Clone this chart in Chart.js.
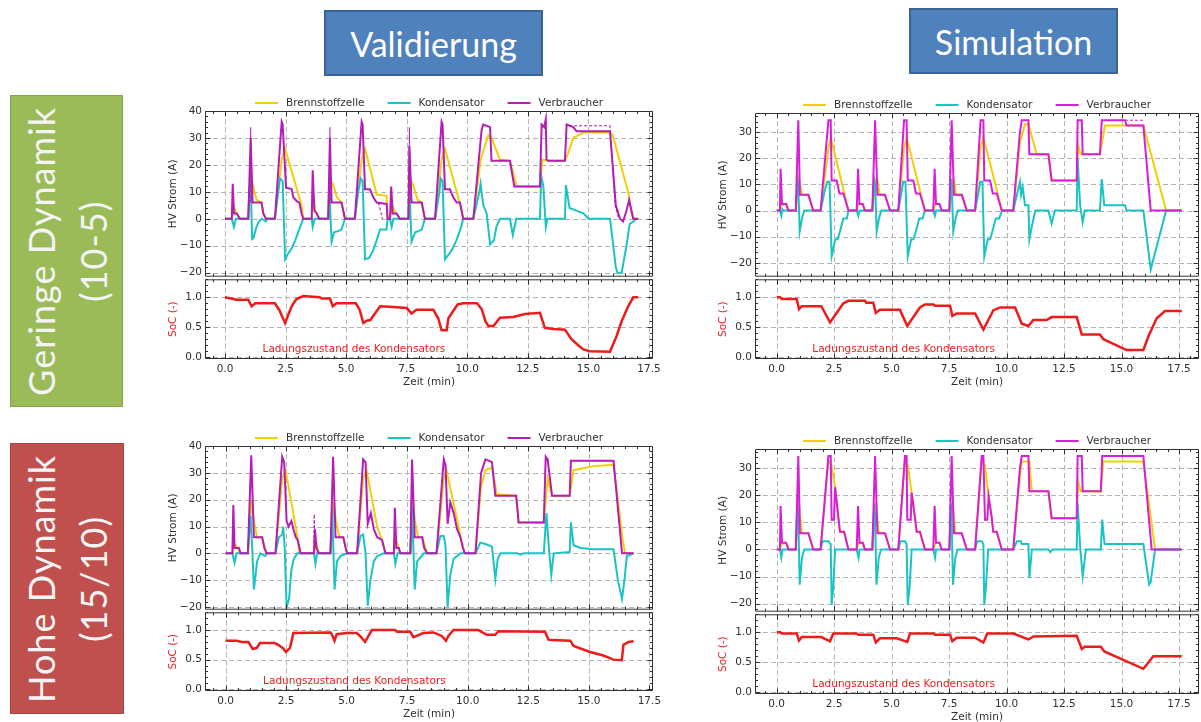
<!DOCTYPE html>
<html>
<head>
<meta charset="utf-8">
<title>HV Strom und SoC – Validierung / Simulation</title>
<script src="https://cdn.jsdelivr.net/npm/chart.js@4.4.1/dist/chart.umd.min.js"></script>
<style>
  html, body { margin: 0; padding: 0; background: #fff; overflow: hidden; }
  #page { position: relative; width: 1201px; height: 722px; background: #fff; }
  canvas { position: absolute; }
  .head {
    position: absolute; box-sizing: border-box;
    background: #4f81bd; border: 2px solid #3b6496;
    color: #fff; font-family: Lato, sans-serif; font-size: 34px;
    display: flex; align-items: center; justify-content: center;
  }
  .side {
    position: absolute; box-sizing: border-box;
    display: flex; align-items: center; justify-content: center;
  }
  .side span {
    writing-mode: vertical-rl; transform: rotate(180deg);
    font-family: Lato, sans-serif; font-size: 36px; line-height: 52px;
    letter-spacing: 1px; color: #f4f4f4; text-align: center; white-space: nowrap;
  }
</style>
</head>
<body>
<div id="page">
  <div class="head" style="left:324px;top:10px;width:219px;height:66px;">Validierung</div>
  <div class="head" style="left:909px;top:8px;width:209px;height:66px;">Simulation</div>
  <div class="side" style="left:10px;top:95px;width:113px;height:312px;background:#9bbb59;border:1px solid #86a44a;">
    <span>Geringe Dynamik<br>(10-5)</span>
  </div>
  <div class="side" style="left:10px;top:443px;width:114px;height:271px;background:#c0504d;border:1px solid #a84542;">
    <span>Hohe Dynamik<br>(15/10)</span>
  </div>
</div>
<script>
// ---------- axis ticks and names ----------
const timeTicks = [0, 2.5, 5, 7.5, 10, 12.5, 15, 17.5];
const currentTicksVal = [-20, -10, 0, 10, 20, 30, 40];
const currentTicksSim = [-20, -10, 0, 10, 20, 30];
const socTicks = [0, 0.5, 1.0];
const seriesNames = ['Brennstoffzelle', 'Kondensator', 'Verbraucher'];
const socNote = 'Ladungszustand des Kondensators';

// ---------- Validierung, geringe Dynamik (10-5) ----------  [t (min), value]
const valGeringeFC = [[0,0],[0.28,0],[0.35,5],[0.48,2],[0.62,0],[0.96,0],[1.06,14],[1.14,13],[1.3,7],[1.51,6],[1.58,2],[1.69,0],[2.06,0],[2.34,22],[2.48,26],[3.16,5],[3.23,0],[3.58,0],[3.65,8],[3.72,3],[3.89,0],[4.26,0],[4.38,14],[4.45,13],[4.62,8],[4.81,6],[4.95,0],[5.36,0],[5.64,22],[5.78,26],[6.26,9],[6.67,8.5],[6.71,0],[6.81,0],[6.9,5],[7.05,2],[7.22,0],[7.57,0],[7.68,14],[7.75,13],[7.95,7],[8.12,6],[8.25,0],[8.67,0],[8.94,22],[9.08,26],[9.77,3],[9.83,0],[10.25,0],[10.55,22],[10.87,31],[11.0,30],[11.35,22],[11.76,21.5],[12.04,12],[13.0,12],[13.1,22],[13.34,21.5],[14.03,21.5],[14.15,24],[14.37,30],[14.79,32],[15.89,32],[16.0,31],[16.64,10],[16.75,3],[16.85,0],[17.06,0]];
const valGeringeCap = [[0,0],[0.28,0],[0.37,-3],[0.45,0],[0.96,0],[1.02,12],[1.06,14],[1.12,-7.5],[1.18,-7],[1.3,-3],[1.4,-1],[1.51,0],[1.69,-1],[1.75,0],[2.06,0],[2.2,10],[2.27,15],[2.38,14],[2.48,-15],[2.6,-13],[2.75,-11],[2.9,-8],[3.1,-3],[3.23,0],[3.58,0],[3.62,-3],[3.7,0],[4.26,0],[4.3,12],[4.4,-8.5],[4.5,-5],[4.7,-4.5],[4.81,-4],[4.95,0],[5.36,0],[5.5,10],[5.6,15],[5.68,14],[5.78,-15],[5.95,-14.5],[6.1,-12],[6.26,-8],[6.4,-4],[6.67,-4],[6.71,0],[6.81,0],[6.88,-3],[6.95,0],[7.57,0],[7.61,12],[7.7,-8.5],[7.85,-5],[8.0,-4.5],[8.12,-4],[8.25,0],[8.67,0],[8.85,10],[8.9,15],[8.98,14],[9.08,-15],[9.25,-13],[9.4,-11],[9.55,-8],[9.75,-3],[9.83,0],[10.25,0],[10.5,10],[10.55,13],[10.66,5],[10.8,2],[10.94,-9.5],[11.1,-8],[11.2,-3],[11.35,0],[11.76,0],[11.88,-6],[12.02,0],[13.0,0],[13.05,16],[13.14,12],[13.24,-3],[13.3,0],[14.03,0],[14.07,12.5],[14.22,4],[14.5,3],[14.79,2],[15.0,0],[15.89,0],[16.0,-8],[16.13,-18],[16.2,-20],[16.37,-20],[16.57,-10],[16.7,-2],[16.85,-1],[17.0,0]];
const valGeringeLoad = [[0,0],[0.28,0],[0.32,13],[0.37,2],[0.48,2],[0.62,0],[0.96,0],[1.06,30],[1.14,6],[1.51,6],[1.58,2],[1.69,0],[2.06,0],[2.34,36],[2.38,35],[2.52,11.5],[2.75,11],[2.82,8],[2.96,6.5],[3.07,6],[3.16,2],[3.23,0],[3.58,0],[3.62,18],[3.69,3],[3.78,2],[3.89,0],[4.26,0],[4.33,30],[4.4,6],[4.81,6],[4.95,0],[5.36,0],[5.64,36],[5.68,35],[5.78,11],[5.98,11],[6.12,8],[6.26,6],[6.67,5.5],[6.71,0],[6.81,0],[6.86,12],[6.92,2],[7.08,2],[7.22,0],[7.57,0],[7.61,27],[7.7,6],[8.12,6],[8.25,0],[8.67,0],[8.94,36],[8.98,35],[9.08,11],[9.28,11],[9.42,8],[9.56,6],[9.7,6],[9.83,0],[10.25,0],[10.59,33],[10.66,35],[10.94,34],[11.0,21.5],[11.76,21.5],[11.94,12],[13.0,12],[13.07,35],[13.17,34],[13.24,37],[13.27,22],[13.34,21.5],[14.03,21.5],[14.1,35],[14.37,34],[14.51,32.5],[15.89,32.5],[16.13,5],[16.3,0],[16.43,-1],[16.57,3],[16.68,7],[16.85,0],[17.06,0]];
const valGeringeRef = [[1.04,6],[1.06,34],[1.09,6],[1.1,null],[4.31,6],[4.33,34],[4.36,6],[4.37,null],[6.33,6],[6.5,0],[6.51,null],[7.59,6],[7.61,34],[7.64,6],[7.65,null],[14.2,34.5],[15.89,34.5],[16.1,5],[16.25,0]];
const valGeringeSoC = [[0,1.0],[0.48,0.96],[0.96,0.96],[1.1,0.85],[1.25,0.9],[2.06,0.9],[2.25,0.78],[2.48,0.57],[2.75,0.85],[2.95,0.97],[3.23,1.02],[3.9,1.0],[4.0,0.98],[4.33,0.98],[4.45,0.85],[4.6,0.9],[5.4,0.9],[5.55,0.8],[5.71,0.57],[5.85,0.61],[6.0,0.62],[6.4,0.85],[6.8,0.84],[7.5,0.82],[7.7,0.73],[7.9,0.79],[8.6,0.79],[8.8,0.65],[8.94,0.45],[9.15,0.45],[9.22,0.65],[9.6,0.88],[9.83,0.9],[10.4,0.9],[10.6,0.8],[10.75,0.6],[10.87,0.52],[11.08,0.52],[11.35,0.66],[11.9,0.67],[12.38,0.72],[13.0,0.74],[13.2,0.49],[13.55,0.47],[14.03,0.46],[14.3,0.3],[14.58,0.2],[14.79,0.13],[15.06,0.1],[15.89,0.09],[16.16,0.35],[16.37,0.6],[16.64,0.85],[16.85,1.0],[17.06,1.0]];

// ---------- Simulation, geringe Dynamik (10-5) ----------
const simGeringeFC = [[0,0],[0.14,0],[0.2,2],[0.41,2.5],[0.51,0],[0.83,0],[0.97,12],[1.01,12],[1.1,6],[1.38,6],[1.59,0],[1.91,0],[2.25,24],[2.35,28],[3.12,0],[3.48,0],[3.56,2.5],[3.74,2.5],[3.84,0],[4.16,0],[4.32,12],[4.38,12],[4.48,6],[4.71,6],[4.93,0],[5.29,0],[5.54,24],[5.65,28],[6.45,0],[6.81,0],[6.9,2.5],[7.08,2.5],[7.18,0],[7.51,0],[7.66,12],[7.71,12],[7.81,6],[8.05,6],[8.27,0],[8.63,0],[8.87,24],[8.99,28],[9.8,0],[10.29,0],[10.58,26],[10.8,33],[10.95,33],[11.31,21.5],[11.82,21.5],[11.96,11.5],[13.05,11.5],[13.12,25],[13.2,22],[13.31,21.5],[14.06,21.5],[14.28,32.5],[15.95,32.5],[16.94,0],[17.62,0]];
const simGeringeCap = [[0,0],[0.14,0],[0.2,-2],[0.25,0.5],[0.3,0],[0.83,0],[0.9,12],[0.94,10],[1.0,-8],[1.1,-3],[1.2,0],[1.91,0],[2.1,8],[2.2,11],[2.3,11],[2.39,-17.5],[2.55,-11],[2.65,-11],[2.75,-8],[2.9,-3],[3.05,-3],[3.12,0],[3.48,0],[3.55,-2],[3.6,0],[4.16,0],[4.24,12],[4.28,10],[4.35,-8],[4.45,-3],[4.55,0],[5.29,0],[5.45,8],[5.5,11],[5.6,11],[5.7,-17.5],[5.85,-11],[5.95,-11],[6.05,-8],[6.2,-3],[6.35,-3],[6.45,0],[6.81,0],[6.88,-2],[6.93,0],[7.51,0],[7.58,12],[7.61,10],[7.68,-8],[7.78,-3],[7.88,0],[8.63,0],[8.8,8],[8.85,11],[8.95,11],[9.03,-17.5],[9.18,-11],[9.28,-11],[9.38,-8],[9.53,-3],[9.68,-3],[9.8,0],[10.29,0],[10.5,8],[10.58,11],[10.63,6],[10.7,9],[10.8,2],[10.95,2],[10.99,-11],[11.1,-6],[11.25,0],[11.82,0],[11.96,-5],[12.1,0],[13.05,0],[13.09,20],[13.2,2],[13.31,-4.5],[13.4,0],[14.06,0],[14.14,12],[14.25,2],[15.15,2],[15.22,0],[15.95,0],[16.27,-22.5],[16.94,0],[17.62,0]];
const simGeringeLoad = [[0,0],[0.14,0],[0.17,16],[0.23,2.5],[0.41,2.5],[0.51,0],[0.83,0],[0.94,34.5],[1.01,6],[1.38,6],[1.59,0],[1.91,0],[2.25,34.5],[2.35,34.5],[2.39,11.5],[2.61,11.5],[2.73,6.5],[2.9,6.5],[3.12,0],[3.48,0],[3.54,16],[3.6,2.5],[3.74,2.5],[3.84,0],[4.16,0],[4.28,34.5],[4.38,6],[4.71,6],[4.93,0],[5.29,0],[5.54,34.5],[5.65,34.5],[5.7,11.5],[5.94,11.5],[6.06,6.5],[6.23,6.5],[6.45,0],[6.81,0],[6.87,16],[6.93,2.5],[7.08,2.5],[7.18,0],[7.51,0],[7.61,34.5],[7.71,6],[8.05,6],[8.27,0],[8.63,0],[8.87,34.5],[8.99,34.5],[9.03,11.5],[9.28,11.5],[9.4,6.5],[9.57,6.5],[9.79,0],[10.29,0],[10.58,30],[10.66,34.5],[10.95,34.5],[10.99,21.5],[11.82,21.5],[11.96,11.5],[13.05,11.5],[13.09,34.5],[13.27,34.5],[13.31,21.5],[14.06,21.5],[14.14,34.5],[15.15,34.5],[15.22,32.5],[15.95,32.5],[16.27,0],[17.62,0]];
const simGeringeRef = [[15.15,34.5],[15.95,34.5]];
const simGeringeSoC = [[0,1.0],[0.15,1.0],[0.22,0.97],[0.87,0.97],[0.97,0.8],[1.09,0.85],[1.94,0.85],[2.32,0.58],[2.9,0.9],[3.12,0.94],[3.84,0.94],[3.9,0.91],[4.2,0.91],[4.31,0.74],[4.49,0.79],[5.36,0.79],[5.68,0.52],[6.23,0.83],[6.45,0.88],[6.81,0.88],[6.89,0.86],[7.54,0.86],[7.64,0.69],[7.83,0.73],[8.63,0.73],[8.99,0.46],[9.42,0.78],[9.71,0.83],[10.37,0.83],[10.66,0.56],[10.95,0.52],[11.16,0.62],[11.74,0.62],[11.96,0.67],[13.05,0.67],[13.27,0.38],[14.06,0.38],[14.21,0.3],[15.22,0.12],[15.95,0.12],[16.17,0.35],[16.53,0.65],[16.89,0.77],[17.62,0.77]];

// ---------- Validierung, hohe Dynamik (15/10) ----------
const valHoheFC = [[0,0],[0.28,0],[0.35,4],[0.5,2],[0.62,0],[0.92,0],[1.06,20],[1.17,12],[1.3,6],[1.51,6],[1.69,0],[2.06,0],[2.34,28],[2.48,31],[2.93,8],[3.05,0],[3.65,0],[3.72,5],[3.85,0],[4.33,0],[4.46,19],[4.56,12],[4.7,6],[4.86,6],[5.02,0],[5.43,0],[5.68,28],[5.82,31],[6.26,10],[6.46,5],[6.6,0],[6.95,0],[7.0,6],[7.22,0],[7.63,0],[7.72,20],[7.82,12],[7.95,6],[8.12,6],[8.32,0],[8.71,0],[9.01,28],[9.12,31],[9.62,10],[9.7,6],[9.88,0],[10.32,0],[10.55,25],[10.73,31],[11.0,32],[11.2,22],[12.0,21.5],[12.1,11.5],[13.14,11.5],[13.3,28],[13.48,21.5],[14.21,21.5],[14.37,31],[15.2,32.5],[16.02,33],[16.13,25],[16.4,5],[16.5,0],[16.85,0]];
const valHoheCap = [[0,0],[0.28,0],[0.37,-3.5],[0.45,0],[0.92,0],[1.03,14],[1.1,2],[1.17,-13.5],[1.3,-3],[1.43,0],[1.63,-1],[1.72,0],[2.06,0],[2.2,6],[2.34,7],[2.38,10],[2.44,2],[2.52,-20],[2.62,-17],[2.72,-6],[2.82,-2],[2.96,0],[3.65,0],[3.71,-4],[3.78,0],[4.33,0],[4.4,17],[4.5,-13.5],[4.6,-3],[4.74,-1],[5.02,0],[5.43,0],[5.57,6.5],[5.68,7],[5.78,0],[5.87,-19.5],[5.98,-10],[6.12,-3],[6.26,-1],[6.53,0],[6.95,0],[7.01,-4],[7.1,0],[7.63,0],[7.7,17],[7.81,-13.5],[7.91,-3],[8.19,0],[8.71,0],[8.87,6.5],[9.01,6.5],[9.08,3],[9.17,-20],[9.28,-8],[9.42,-2],[9.7,0],[10.32,0],[10.52,4],[10.73,3.5],[11.0,2.5],[11.14,-9.5],[11.24,-2],[11.35,0],[12.04,0],[12.18,-0.5],[12.3,0],[13.14,0],[13.25,15],[13.35,2],[13.45,-8],[13.55,0],[14.21,0.5],[14.26,11.5],[14.37,3],[14.65,2],[15.2,1.5],[16.02,1.5],[16.2,-10],[16.37,-17],[16.47,-10],[16.57,-1],[16.85,0]];
const valHoheLoad = [[0,0],[0.28,0],[0.32,18],[0.37,2],[0.55,2],[0.62,0],[0.92,0],[1.06,36.5],[1.17,6],[1.51,6],[1.6,2],[1.69,0],[2.06,0],[2.34,36],[2.42,34],[2.52,12],[2.6,10],[2.72,12],[2.8,9],[2.9,6],[2.98,5],[3.1,0],[3.65,0],[3.69,9],[3.75,2],[3.85,0],[4.33,0],[4.44,36],[4.54,6],[4.86,6],[4.96,2],[5.02,0],[5.43,0],[5.68,35],[5.78,34],[5.87,11],[6.0,15],[6.12,9],[6.26,6],[6.46,5],[6.6,0],[6.95,0],[6.99,17],[7.05,2],[7.15,2],[7.22,0],[7.63,0],[7.7,35],[7.81,6],[8.12,6],[8.2,2],[8.32,0],[8.71,0],[9.01,35],[9.08,33],[9.17,11],[9.28,19],[9.42,15],[9.56,9],[9.7,6],[9.8,2],[9.88,0],[10.32,0],[10.55,30],[10.73,35],[11.0,34],[11.14,21.5],[12.0,21.5],[12.1,11.5],[13.14,11.5],[13.22,36],[13.3,35],[13.48,21.5],[14.21,21.5],[14.26,34.5],[16.02,34.5],[16.27,10],[16.37,0],[16.85,0]];
const valHoheRef = [[3.64,2],[3.66,14.5],[3.69,2]];
const valHoheSoC = [[0,0.82],[0.45,0.82],[0.66,0.8],[0.94,0.8],[1.12,0.68],[1.29,0.7],[1.42,0.78],[2.03,0.78],[2.17,0.75],[2.38,0.69],[2.49,0.63],[2.66,0.7],[2.8,0.95],[4.34,0.96],[4.42,0.9],[4.5,0.82],[4.59,0.93],[5.0,0.95],[5.41,0.95],[5.55,0.9],[5.76,0.8],[5.83,0.85],[6.04,1.0],[7.0,1.0],[7.08,0.97],[7.62,0.97],[7.76,0.88],[8.17,0.95],[8.58,0.96],[8.93,0.9],[9.1,0.82],[9.2,0.9],[9.41,1.0],[10.44,1.0],[10.78,0.92],[11.13,0.92],[11.27,0.98],[13.19,0.97],[13.33,0.84],[13.47,0.83],[14.23,0.82],[14.37,0.73],[15.05,0.63],[15.6,0.57],[16.02,0.5],[16.36,0.49],[16.43,0.75],[16.64,0.8],[16.85,0.81]];

// ---------- Simulation, hohe Dynamik (15/10) ----------
const simHoheFC = [[0,0],[0.14,0],[0.2,2],[0.41,2.5],[0.51,0],[0.83,0],[0.97,17],[1.05,10],[1.1,6],[1.38,6],[1.59,0],[1.91,0],[2.25,33],[2.39,31],[2.54,23],[2.68,12],[2.75,6.5],[2.93,6.5],[3.12,0],[3.48,0],[3.56,2.5],[3.74,2.5],[3.84,0],[4.16,0],[4.32,17],[4.42,8],[4.45,6],[4.71,6],[4.93,0],[5.29,0],[5.58,33],[5.7,31],[5.87,21],[6.01,12],[6.09,6.5],[6.23,6.5],[6.45,0],[6.81,0],[6.9,2.5],[7.08,2.5],[7.18,0],[7.51,0],[7.65,17],[7.75,8],[7.78,6],[8.05,6],[8.27,0],[8.63,0],[8.92,33],[9.06,31],[9.22,19.5],[9.35,12],[9.42,6.5],[9.57,6.5],[9.79,0],[10.29,0],[10.58,27],[10.66,32.5],[10.99,32.5],[11.1,21.5],[11.82,21.5],[11.96,11.5],[13.05,11.5],[13.12,25],[13.22,21.5],[14.1,21.5],[14.2,32.5],[15.95,32.5],[16.46,0],[17.62,0]];
const simHoheCap = [[0,0],[0.14,0],[0.2,-3],[0.25,0],[0.83,0],[0.9,17],[0.94,12],[1.0,-13],[1.1,-3],[1.2,0],[1.91,0],[2.0,3],[2.25,3],[2.35,2],[2.39,-20.5],[2.46,-14],[2.54,0],[3.48,0],[3.56,-3],[3.6,0],[4.16,0],[4.24,17],[4.28,12],[4.34,-13],[4.44,-3],[4.54,0],[5.29,0],[5.38,3],[5.58,3],[5.65,2],[5.7,-20.5],[5.78,-14],[5.87,0],[6.81,0],[6.89,-3],[6.93,0],[7.51,0],[7.58,17],[7.61,12],[7.67,-13],[7.77,-3],[7.87,0],[8.63,0],[8.72,3],[8.92,3],[8.99,2],[9.03,-20.5],[9.1,-14],[9.2,0],[10.29,0],[10.45,3],[10.62,3],[10.66,2],[10.95,2],[10.99,-10.5],[11.1,0],[11.82,0],[11.9,-1],[12.0,0],[13.05,0],[13.09,17],[13.2,1],[13.31,-10],[13.45,0],[14.1,0],[14.16,11],[14.26,2],[15.95,2],[16.05,-4],[16.2,-13],[16.27,-12],[16.46,0],[17.62,0]];
const simHoheLoad = [[0,0],[0.14,0],[0.17,16],[0.23,2.5],[0.41,2.5],[0.51,0],[0.83,0],[0.94,34.5],[1.01,6],[1.38,6],[1.59,0],[1.91,0],[2.25,34.5],[2.35,34.5],[2.39,11],[2.49,11],[2.54,23],[2.68,12],[2.75,6.5],[2.93,6.5],[3.12,0],[3.48,0],[3.54,16],[3.6,2.5],[3.74,2.5],[3.84,0],[4.16,0],[4.28,34.5],[4.38,6],[4.71,6],[4.93,0],[5.29,0],[5.58,34.5],[5.65,34.5],[5.68,11],[5.83,11],[5.87,21],[6.01,12],[6.09,6.5],[6.23,6.5],[6.45,0],[6.81,0],[6.87,16],[6.93,2.5],[7.08,2.5],[7.18,0],[7.51,0],[7.61,34.5],[7.71,6],[8.05,6],[8.27,0],[8.63,0],[8.92,34.5],[8.99,34.5],[9.06,11],[9.16,11],[9.22,19.5],[9.35,12],[9.42,6.5],[9.57,6.5],[9.79,0],[10.29,0],[10.58,30],[10.66,34.5],[10.95,34.5],[10.99,21.5],[11.82,21.5],[11.96,11.5],[13.05,11.5],[13.09,34.5],[13.27,34.5],[13.31,21.5],[14.1,21.5],[14.16,34.5],[15.95,34.5],[16.31,0],[17.62,0]];
const simHoheRef = [];
const simHoheSoC = [[0,1.0],[0.15,1.0],[0.22,0.98],[0.87,0.98],[0.97,0.86],[1.09,0.92],[1.94,0.92],[2.32,0.85],[2.46,0.98],[3.48,0.98],[3.55,0.96],[4.2,0.96],[4.31,0.83],[4.49,0.9],[5.22,0.9],[5.68,0.84],[5.8,0.98],[6.81,0.98],[6.89,0.96],[7.54,0.96],[7.64,0.85],[7.83,0.91],[8.63,0.91],[8.99,0.83],[9.16,0.98],[10.29,0.98],[10.95,0.88],[11.17,0.93],[13.05,0.94],[13.27,0.72],[13.4,0.76],[14.1,0.76],[14.25,0.68],[15.95,0.39],[16.38,0.6],[17.62,0.6]];

// ---------- styling ----------
const FONT = { family: '"DejaVu Sans", sans-serif', size: 10.5 };
const INK = '#303030';
const COLORS = { fc: '#f2cf00', cap: '#1cc3c3', soc: '#ee1b1b', loadVal: '#b41db6', loadSim: '#d81fd8' };

const fmt = dec => v => (v < 0 ? '\u2212' : '') + Math.abs(v).toFixed(dec);
const toXY = arr => arr.map(([x, y]) => ({ x, y }));
const tickList = vals => vals.map(v => ({ value: v }));

// Frame, dashed grid, inward major/minor ticks, legend and note drawn like a matplotlib axes
const axesDecor = {
  id: 'axesDecor',
  beforeDatasetsDraw(chart, args, o) {
    const { ctx, chartArea: a, scales: { x, y } } = chart;
    ctx.save();
    ctx.strokeStyle = '#b4b4b4';
    ctx.lineWidth = 1;
    ctx.setLineDash([5, 3]);
    ctx.beginPath();
    x.ticks.forEach(t => {
      const px = Math.round(x.getPixelForValue(t.value)) + 0.5;
      ctx.moveTo(px, a.top); ctx.lineTo(px, a.bottom);
    });
    y.ticks.forEach(t => {
      const py = Math.round(y.getPixelForValue(t.value)) + 0.5;
      ctx.moveTo(a.left, py); ctx.lineTo(a.right, py);
    });
    ctx.stroke();
    ctx.restore();
  },
  afterDatasetsDraw(chart, args, o) {
    const { ctx, chartArea: a, scales: { x, y } } = chart;
    ctx.save();
    ctx.strokeStyle = INK;
    ctx.lineWidth = 1;
    ctx.beginPath();
    const L = a.left + 0.5, R = a.right - 0.5, T = a.top + 0.5, B = a.bottom - 0.5;
    ctx.rect(L, T, R - L, B - T);
    const majX = x.ticks.map(t => t.value), majY = y.ticks.map(t => t.value);
    const isMaj = (v, list) => list.some(m => Math.abs(m - v) < 1e-6);
    const vTick = (v, len) => {
      const px = Math.round(x.getPixelForValue(v)) + 0.5;
      ctx.moveTo(px, B); ctx.lineTo(px, B - len);
      ctx.moveTo(px, T); ctx.lineTo(px, T + len);
    };
    const hTick = (v, len) => {
      const py = Math.round(y.getPixelForValue(v)) + 0.5;
      ctx.moveTo(L, py); ctx.lineTo(L + len, py);
      ctx.moveTo(R, py); ctx.lineTo(R - len, py);
    };
    majX.forEach(v => vTick(v, 5));
    majY.forEach(v => hTick(v, 5));
    for (let v = Math.ceil(x.min / o.xMinor) * o.xMinor; v <= x.max; v += o.xMinor) {
      if (!isMaj(v, majX)) vTick(v, 2.5);
    }
    for (let v = Math.ceil(y.min / o.yMinor) * o.yMinor; v <= y.max + 1e-9; v += o.yMinor) {
      if (!isMaj(v, majY)) hTick(v, 2.5);
    }
    ctx.stroke();
    ctx.restore();
  },
  afterDraw(chart, args, o) {
    const { ctx, chartArea: a, scales: { x, y } } = chart;
    ctx.save();
    ctx.font = `${FONT.size}px ${FONT.family}`;
    if (o.legend) {
      const items = chart.data.datasets.filter(d => d.label).sort((p, q) => p.legendPos - q.legendPos);
      const lineLen = 23, gap = 8, itemGap = 23;
      const widths = items.map(d => ctx.measureText(d.label).width);
      const total = widths.reduce((s, w) => s + lineLen + gap + w, 0) + itemGap * (items.length - 1);
      let cx = (a.left + a.right) / 2 - total / 2;
      const cy = a.top - o.legendOffset;
      ctx.textBaseline = 'middle';
      ctx.textAlign = 'left';
      items.forEach((d, i) => {
        ctx.strokeStyle = d.borderColor;
        ctx.lineWidth = 2;
        ctx.beginPath(); ctx.moveTo(cx, cy); ctx.lineTo(cx + lineLen, cy); ctx.stroke();
        ctx.fillStyle = INK;
        ctx.fillText(d.label, cx + lineLen + gap, cy);
        cx += lineLen + gap + widths[i] + itemGap;
      });
    }
    if (o.note) {
      ctx.fillStyle = COLORS.soc;
      ctx.textBaseline = 'middle';
      ctx.textAlign = 'left';
      ctx.fillText(o.note.text, x.getPixelForValue(o.note.x), y.getPixelForValue(o.note.y));
    }
    ctx.restore();
  }
};
Chart.register(axesDecor);

const YW = 38, PR = 14;

function addCanvas(left, top, width, height) {
  const c = document.createElement('canvas');
  c.width = width; c.height = height;
  c.style.left = left + 'px'; c.style.top = top + 'px';
  c.style.width = width + 'px'; c.style.height = height + 'px';
  document.getElementById('page').appendChild(c);
  return c;
}

function scaleX(xr, showLabels, xh) {
  return {
    type: 'linear', min: xr[0], max: xr[1],
    afterBuildTicks: s => { s.ticks = tickList(timeTicks); },
    afterFit: s => { s.height = xh; },
    grid: { display: false, drawTicks: false }, border: { display: false },
    ticks: { display: showLabels, font: FONT, color: INK, padding: 4, maxRotation: 0, autoSkip: false, callback: fmt(1) },
    title: { display: showLabels, text: 'Zeit (min)', font: FONT, color: INK, padding: 0 }
  };
}

function scaleY(yr, ticks, dec, title, titleColor) {
  return {
    type: 'linear', min: yr[0], max: yr[1],
    afterBuildTicks: s => { s.ticks = tickList(ticks); },
    afterFit: s => { s.width = YW; },
    grid: { display: false, drawTicks: false }, border: { display: false },
    ticks: { font: FONT, color: INK, padding: 3, autoSkip: false, callback: fmt(dec) },
    title: { display: true, text: title, font: FONT, color: titleColor, padding: 0 }
  };
}

const baseOptions = {
  responsive: false, animation: false, events: [],
  plugins: { legend: { display: false }, tooltip: { enabled: false } },
  elements: { point: { radius: 0 }, line: { borderWidth: 2, tension: 0, fill: false } }
};

function buildPanel(p) {
  // current plot
  const PT = 20, PB = 8;
  const c1 = addCanvas(p.l - YW, p.cur[0] - PT, p.r - p.l + YW + PR, PT + p.cur[1] - p.cur[0] + PB);
  new Chart(c1, {
    type: 'line',
    data: {
      datasets: [
        { label: seriesNames[0], legendPos: 0, data: toXY(p.fc), borderColor: COLORS.fc, order: 3 },
        { label: seriesNames[1], legendPos: 1, data: toXY(p.cap), borderColor: COLORS.cap, order: 2 },
        { label: seriesNames[2], legendPos: 2, data: toXY(p.load), borderColor: p.loadColor, order: 1 },
        { label: '', data: toXY(p.ref), borderColor: p.loadColor, borderWidth: 1.1, borderDash: [3, 2], order: 0 }
      ]
    },
    options: Object.assign({}, baseOptions, {
      layout: { padding: { top: PT, right: PR, bottom: PB, left: 0 } },
      plugins: Object.assign({}, baseOptions.plugins, {
        axesDecor: { xMinor: 0.5, yMinor: 2, legend: true, legendOffset: 8 }
      }),
      scales: {
        x: scaleX(p.xr, false, 0),
        y: scaleY(p.yr, p.yTicks, 0, 'HV Strom (A)', INK)
      }
    })
  });

  // state of charge plot
  const PT2 = 8, PB2 = 4, XH = 30;
  const c2 = addCanvas(p.l - YW, p.soc[0] - PT2, p.r - p.l + YW + PR, PT2 + p.soc[1] - p.soc[0] + XH + PB2);
  new Chart(c2, {
    type: 'line',
    data: { datasets: [{ label: '', data: toXY(p.socData), borderColor: COLORS.soc, borderWidth: 2.5 }] },
    options: Object.assign({}, baseOptions, {
      layout: { padding: { top: PT2, right: PR, bottom: PB2, left: 0 } },
      plugins: Object.assign({}, baseOptions.plugins, {
        axesDecor: { xMinor: 0.5, yMinor: 0.1, legend: false, note: { text: socNote, x: 1.55, y: 0.13 } }
      }),
      scales: {
        x: scaleX(p.xr, true, XH),
        y: scaleY([-0.03, 1.3], socTicks, 1, 'SoC (-)', COLORS.soc)
      }
    })
  });
}

// panel placement: plot-area edges in page pixels
buildPanel({ l: 205, r: 653, cur: [111, 278], soc: [278, 359], xr: [-0.825, 17.665], yr: [-21.5, 40], yTicks: currentTicksVal,
  fc: valGeringeFC, cap: valGeringeCap, load: valGeringeLoad, ref: valGeringeRef, socData: valGeringeSoC, loadColor: COLORS.loadVal });
buildPanel({ l: 755, r: 1199, cur: [113, 278], soc: [278, 359], xr: [-0.944, 18.37], yr: [-25.3, 37.3], yTicks: currentTicksSim,
  fc: simGeringeFC, cap: simGeringeCap, load: simGeringeLoad, ref: simGeringeRef, socData: simGeringeSoC, loadColor: COLORS.loadSim });
buildPanel({ l: 205, r: 653, cur: [446, 611], soc: [611, 691], xr: [-0.85, 17.65], yr: [-21, 40], yTicks: currentTicksVal,
  fc: valHoheFC, cap: valHoheCap, load: valHoheLoad, ref: valHoheRef, socData: valHoheSoC, loadColor: COLORS.loadVal });
buildPanel({ l: 755, r: 1199, cur: [449, 613], soc: [613, 694], xr: [-0.944, 18.37], yr: [-23, 37.1], yTicks: currentTicksSim,
  fc: simHoheFC, cap: simHoheCap, load: simHoheLoad, ref: simHoheRef, socData: simHoheSoC, loadColor: COLORS.loadSim });
</script>
</body>
</html>
